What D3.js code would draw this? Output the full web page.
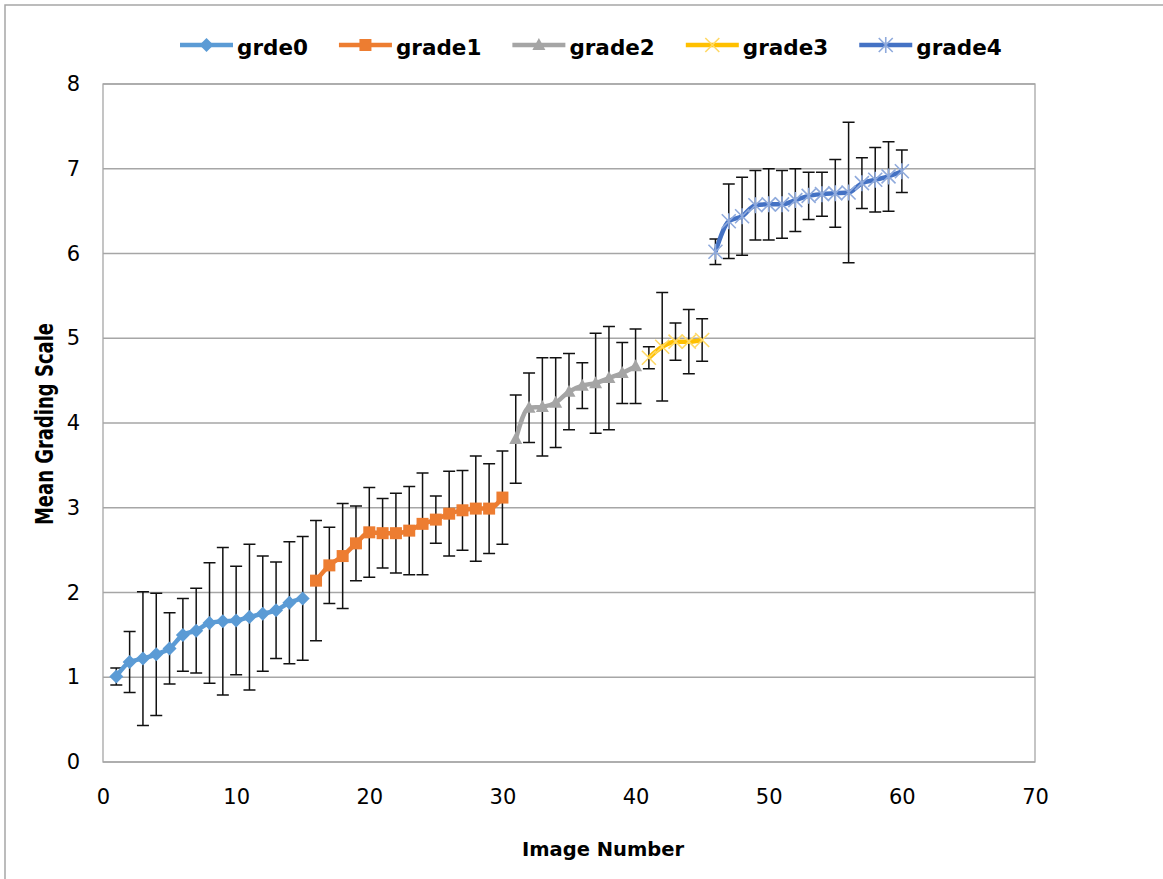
<!DOCTYPE html>
<html>
<head>
<meta charset="utf-8">
<script src="https://cdn.jsdelivr.net/npm/d3@7"></script>
<style>
  body { margin: 0; background: #fff; }
  svg { display: block; font-family: "DejaVu Sans", sans-serif; }
</style>
</head>
<body>
<svg id="chart" width="1163" height="879"></svg>
<script>
// series names, colours and first image number of each group
var seriesNames = ["grde0", "grade1", "grade2", "grade3", "grade4"];
var seriesColors = ["#5B9BD5", "#ED7D31", "#A5A5A5", "#FFC000", "#4472C4"];
var markerColors = ["#5B9BD5", "#ED7D31", "#A5A5A5", "#FFD966", "#8FAADC"];
var markerShapes = ["diamond", "square", "triangle", "x", "star"];
var firstImage = [1, 16, 31, 41, 46];

// mean grading scale per image
var means0 = [1.01, 1.18, 1.22, 1.27, 1.34, 1.50, 1.55, 1.64, 1.66, 1.67, 1.71, 1.75, 1.79, 1.88, 1.93];
var means1 = [2.14, 2.32, 2.43, 2.58, 2.71, 2.70, 2.70, 2.73, 2.81, 2.86, 2.93, 2.97, 2.99, 2.99, 3.12];
var means2 = [3.81, 4.18, 4.19, 4.24, 4.37, 4.44, 4.47, 4.53, 4.59, 4.67];
var means3 = [4.77, 4.90, 4.96, 4.96, 4.98];
var means4 = [6.02, 6.38, 6.44, 6.57, 6.58, 6.58, 6.63, 6.68, 6.70, 6.71, 6.72, 6.83, 6.87, 6.91, 6.97];

// error (± half length of each bar)
var errs0 = [0.10, 0.36, 0.79, 0.72, 0.42, 0.43, 0.50, 0.71, 0.87, 0.64, 0.86, 0.68, 0.57, 0.72, 0.73];
var errs1 = [0.71, 0.45, 0.62, 0.44, 0.53, 0.41, 0.47, 0.52, 0.60, 0.28, 0.50, 0.47, 0.62, 0.53, 0.55];
var errs2 = [0.52, 0.41, 0.58, 0.53, 0.45, 0.27, 0.59, 0.61, 0.36, 0.44];
var errs3 = [0.13, 0.64, 0.22, 0.38, 0.25];
var errs4 = [0.15, 0.44, 0.46, 0.41, 0.42, 0.40, 0.37, 0.28, 0.26, 0.40, 0.83, 0.30, 0.38, 0.41, 0.25];

var xTicks = [0, 10, 20, 30, 40, 50, 60, 70];
var yTicks = [0, 1, 2, 3, 4, 5, 6, 7, 8];

var allMeans = [means0, means1, means2, means3, means4];
var allErrs = [errs0, errs1, errs2, errs3, errs4];

var series = seriesNames.map(function(name, s) {
  return {
    name: name,
    color: seriesColors[s],
    mcolor: markerColors[s],
    shape: markerShapes[s],
    values: allMeans[s].map(function(m, i) {
      return { x: firstImage[s] + i, y: m, e: allErrs[s][i] };
    })
  };
});

var svg = d3.select("#chart");
var gridColor = "#A6A6A6";

var x = d3.scaleLinear().domain([0, 70]).range([103, 1035]);
var y = d3.scaleLinear().domain([0, 8]).range([762, 84]);

// outer chart border
svg.append("rect")
  .attr("x", 5).attr("y", 5)
  .attr("width", 1180).attr("height", 900)
  .attr("fill", "none")
  .attr("stroke", gridColor)
  .attr("stroke-width", 1.5);

// gridlines
svg.append("g").selectAll("line")
  .data(yTicks)
  .enter().append("line")
  .attr("x1", x(0)).attr("x2", x(70))
  .attr("y1", function(d) { return y(d); })
  .attr("y2", function(d) { return y(d); })
  .attr("stroke", gridColor)
  .attr("stroke-width", 1.3);

// plot frame
svg.append("rect")
  .attr("x", x(0)).attr("y", y(8))
  .attr("width", x(70) - x(0)).attr("height", y(0) - y(8))
  .attr("fill", "none")
  .attr("stroke", gridColor)
  .attr("stroke-width", 1.3);

// axes (labels only, Excel style)
var xAxis = d3.axisBottom(x).tickValues(xTicks).tickSize(0).tickPadding(27);
svg.append("g")
  .attr("transform", "translate(0," + y(0) + ")")
  .call(xAxis)
  .call(function(g) { g.select(".domain").remove(); })
  .selectAll("text")
  .attr("font-size", 21)
  .attr("font-family", "DejaVu Sans")
  .attr("fill", "#000");

var yAxis = d3.axisLeft(y).tickValues(yTicks).tickSize(0).tickPadding(23);
svg.append("g")
  .attr("transform", "translate(" + x(0) + ",0)")
  .call(yAxis)
  .call(function(g) { g.select(".domain").remove(); })
  .selectAll("text")
  .attr("font-size", 21)
  .attr("font-family", "DejaVu Sans")
  .attr("fill", "#000");

// error bars
var capW = 6;
svg.append("g").selectAll("g")
  .data(series)
  .enter().append("g")
  .selectAll("path")
  .data(function(d) { return d.values; })
  .enter().append("path")
  .attr("d", function(d) {
    var cx = x(d.x), t = y(d.y + d.e), b = y(d.y - d.e);
    return "M" + cx + "," + t + "V" + b +
      "M" + (cx - capW) + "," + t + "H" + (cx + capW) +
      "M" + (cx - capW) + "," + b + "H" + (cx + capW);
  })
  .attr("fill", "none")
  .attr("stroke", "#111")
  .attr("stroke-width", 1.5);

// lines
var line = d3.line()
  .curve(d3.curveMonotoneX)
  .x(function(d) { return x(d.x); })
  .y(function(d) { return y(d.y); });

svg.append("g").selectAll("path")
  .data(series)
  .enter().append("path")
  .attr("d", function(d) { return line(d.values); })
  .attr("fill", "none")
  .attr("stroke", function(d) { return d.color; })
  .attr("stroke-width", 4.5)
  .attr("stroke-linejoin", "round");

// marker drawing helper
function drawMarker(g, shape, color, cx, cy) {
  if (shape === "diamond") {
    g.append("path")
      .attr("d", "M" + cx + "," + (cy - 7) + "L" + (cx + 7) + "," + cy +
        "L" + cx + "," + (cy + 7) + "L" + (cx - 7) + "," + cy + "Z")
      .attr("fill", color);
  } else if (shape === "square") {
    g.append("rect")
      .attr("x", cx - 6).attr("y", cy - 6)
      .attr("width", 12).attr("height", 12)
      .attr("fill", color);
  } else if (shape === "triangle") {
    g.append("path")
      .attr("d", "M" + cx + "," + (cy - 7) + "L" + (cx + 6.5) + "," + (cy + 5) +
        "L" + (cx - 6.5) + "," + (cy + 5) + "Z")
      .attr("fill", color);
  } else if (shape === "x") {
    g.append("path")
      .attr("d", "M" + (cx - 7) + "," + (cy - 7) + "L" + (cx + 7) + "," + (cy + 7) +
        "M" + (cx - 7) + "," + (cy + 7) + "L" + (cx + 7) + "," + (cy - 7))
      .attr("stroke", color).attr("stroke-width", 1.6).attr("fill", "none");
  } else if (shape === "star") {
    g.append("path")
      .attr("d", "M" + (cx - 7) + "," + (cy - 7) + "L" + (cx + 7) + "," + (cy + 7) +
        "M" + (cx - 7) + "," + (cy + 7) + "L" + (cx + 7) + "," + (cy - 7) +
        "M" + cx + "," + (cy - 8) + "L" + cx + "," + (cy + 8))
      .attr("stroke", color).attr("stroke-width", 1.6).attr("fill", "none");
  }
}

// markers
var markerLayer = svg.append("g");
series.forEach(function(s) {
  s.values.forEach(function(d) {
    drawMarker(markerLayer, s.shape, s.mcolor, x(d.x), y(d.y));
  });
});

// legend
var legend = svg.append("g");
var lx = 180, ly = 45;
series.forEach(function(s) {
  var item = legend.append("g");
  item.append("line")
    .attr("x1", lx).attr("x2", lx + 53)
    .attr("y1", ly).attr("y2", ly)
    .attr("stroke", s.color)
    .attr("stroke-width", 4.5);
  drawMarker(item, s.shape, s.mcolor, lx + 26.5, ly);
  var t = item.append("text")
    .attr("x", lx + 57)
    .attr("y", ly + 10)
    .attr("font-size", 21.5)
    .attr("font-weight", "bold")
    .text(s.name);
  lx += 57 + t.node().getComputedTextLength() + 31;
});

// axis titles
svg.append("text")
  .attr("x", 603)
  .attr("y", 856)
  .attr("text-anchor", "middle")
  .attr("font-size", 19.5)
  .attr("font-weight", "bold")
  .text("Image Number");

svg.append("text")
  .attr("transform", "translate(53,424) rotate(-90) scale(1,1.4)")
  .attr("text-anchor", "middle")
  .attr("font-size", 18)
  .attr("font-weight", "bold")
  .text("Mean Grading Scale");
</script>
</body>
</html>
